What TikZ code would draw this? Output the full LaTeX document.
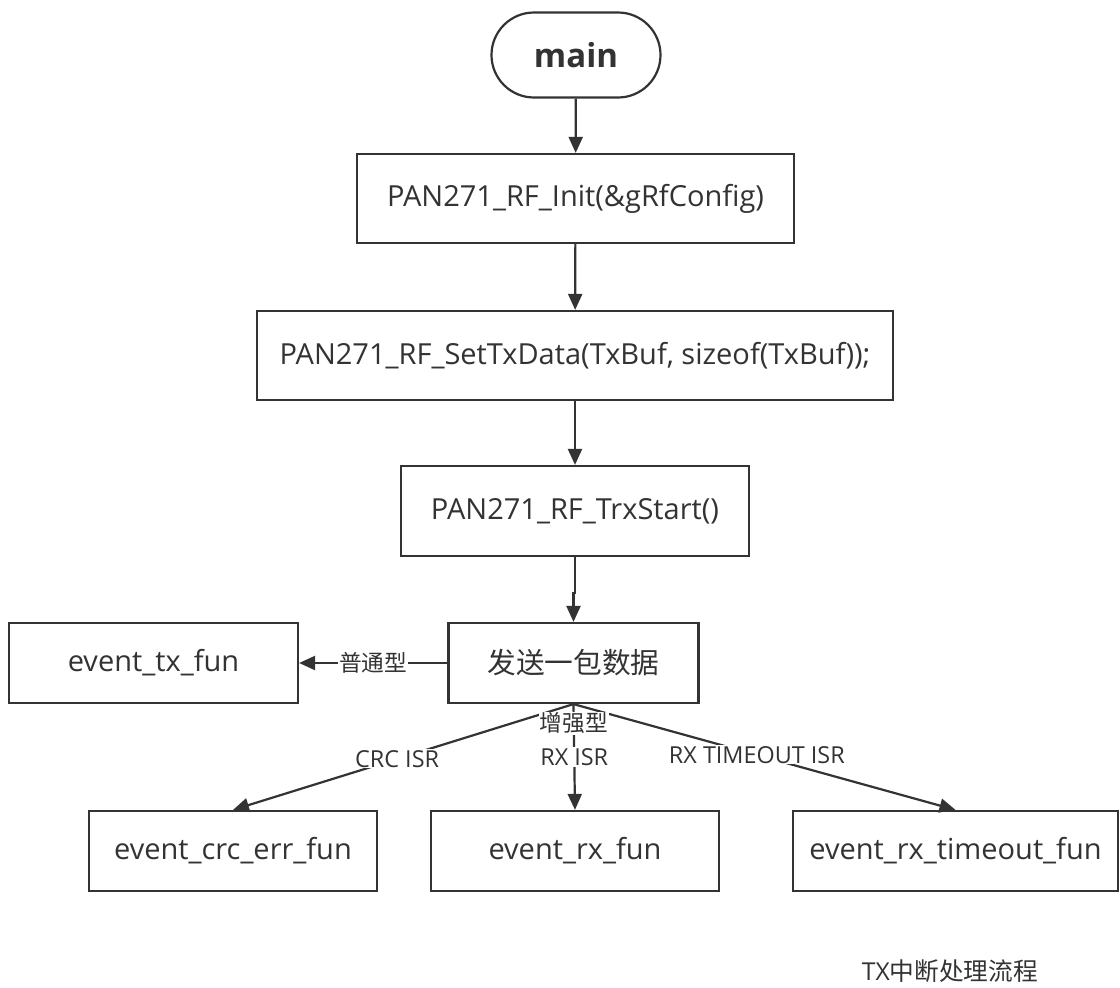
\documentclass[tikz,border=0pt]{standalone}
\usepackage{fontspec}
\setmainfont{Open Sans}
\newfontfamily\cjk{Noto Sans CJK SC}
\usetikzlibrary{arrows.meta,shapes.misc}
\definecolor{ink}{HTML}{333333}
\tikzset{
  box/.style={draw=ink, line width=2.2pt, fill=white, inner sep=0pt, text=ink, font=\fontsize{29}{34}\selectfont},
  conn/.style={draw=ink, line width=2.2pt, -{Triangle[length=16pt,width=14pt]}},
  lab/.style={fill=white, inner sep=1pt, text=ink, font=\fontsize{23.4}{27}\selectfont},
  cjklab/.style={fill=white, inner sep=1pt, text=ink, font=\fontsize{22.7}{26}\selectfont\cjk},
}
\begin{document}
\begin{tikzpicture}[x=1pt,y=-1pt]
\useasboundingbox (0,0) rectangle (1120,988);
\node[box, rounded rectangle, minimum width=169pt, minimum height=85pt, font=\fontsize{33}{38}\selectfont\bfseries] (main) at (576,55) {main};
\node[box, minimum width=437pt, minimum height=89pt] (init) at (575.5,198.5) {PAN271\_RF\_Init(\&gRfConfig)};
\node[box, minimum width=636pt, minimum height=89pt] (set) at (575,355.5) {PAN271\_RF\_SetTxData(TxBuf, sizeof(TxBuf));};
\node[box, minimum width=348pt, minimum height=90pt] (trx) at (575,511) {PAN271\_RF\_TrxStart()};
\node[box, minimum width=250pt, minimum height=80pt, font=\fontsize{28.7}{33}\selectfont\cjk] (send) at (573.5,663) {发送一包数据};
\node[box, minimum width=289pt, minimum height=80pt] (tx) at (153.5,663) {event\_tx\_fun};
\node[box, minimum width=288pt, minimum height=80pt] (crc) at (233,851) {event\_crc\_err\_fun};
\node[box, minimum width=288pt, minimum height=80pt] (rx) at (575,851) {event\_rx\_fun};
\node[box, minimum width=325pt, minimum height=80pt] (to) at (955.5,851) {event\_rx\_timeout\_fun};
\node[text=ink, font=\fontsize{24.7}{28}\selectfont, inner sep=0pt] (title) at (950,971) {TX{\cjk 中断处理流程}};

\draw[conn] (main) -- (init);
\draw[conn] (init) -- (set);
\draw[conn] (set) -- (trx);
\draw[conn] (trx.south) -- ++(0,36) -| (send.north);
\draw[conn] (send) -- node[cjklab] {普通型} (tx);
\draw[conn] (send.south) -- node[lab, pos=0.518] {CRC ISR} (crc.north);
\draw[conn] (send.south) -- node[lab, pos=0.48] {RX TIMEOUT ISR} (to.north);
\draw[conn] (send.south) -- node[cjklab, pos=0.18] {增强型} node[lab, pos=0.5] {RX ISR} (rx.north);
\end{tikzpicture}
\end{document}
